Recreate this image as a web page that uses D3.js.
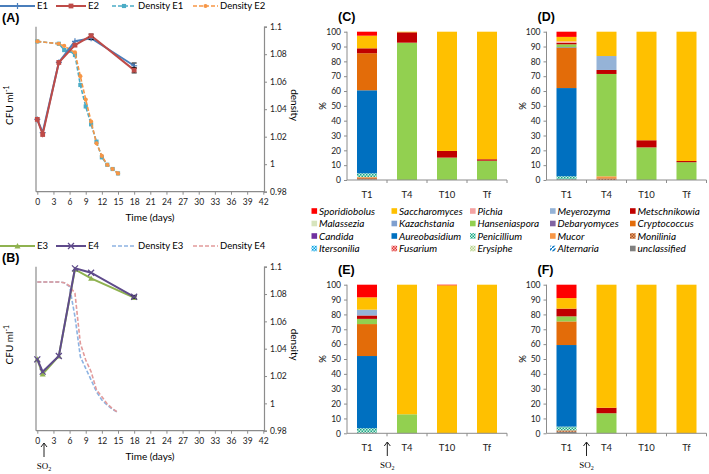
<!DOCTYPE html>
<html><head><meta charset="utf-8">
<script src="https://cdn.jsdelivr.net/npm/d3@7/dist/d3.min.js"></script>
<style>
body{margin:0;background:#fff;}
svg{display:block;font-family:Lato,"Open Sans",sans-serif;}
</style></head><body>
<svg id="c" width="709" height="474"></svg>
<script>
// ---------- DATA ----------
const cfuDays = [0, 1, 4, 7, 10, 18];
const cfuE1 = [5.63, 5.15, 7.70, 8.47, 8.58, 7.58];
const cfuE2 = [5.63, 5.08, 7.70, 8.33, 8.67, 7.42];
const errE1 = [0, 0, 0, 0, 0.05, 0.10];
const errE2 = [0, 0, 0, 0, 0.06, 0.10];
const cfuE3 = [5.61, 5.07, 5.73, 8.90, 8.57, 7.87];
const cfuE4 = [5.61, 5.16, 5.73, 8.94, 8.78, 7.90];
const errE3 = [0, 0, 0, 0, 0, 0.05];
const errE4 = [0, 0, 0, 0, 0, 0.05];
const densDays = [0, 4, 5, 6, 7, 8, 9, 10, 11, 12, 13, 14, 15];
const densE1 = [1.0893, 1.0876, 1.0830, 1.0825, 1.0794, 1.0576, 1.0420, 1.0290, 1.0164, 1.0050, 0.9996, 0.9965, 0.9933];
const densE2 = [1.0893, 1.0876, 1.0860, 1.0835, 1.0813, 1.0640, 1.0470, 1.0310, 1.0152, 1.0060, 0.9996, 0.9965, 0.9933];
const densE3 = [1.0888, 1.0888, 1.0883, 1.0854, 1.0634, 1.0341, 1.0256, 1.0171, 1.0085, 1.0024, 0.9988, 0.9956, 0.9934];
const densE4 = [1.0888, 1.0888, 1.0883, 1.0859, 1.0805, 1.0439, 1.0317, 1.0232, 1.0098, 1.0049, 0.9995, 0.9961, 0.9934];
const dayTicks = [0, 3, 6, 9, 12, 15, 18, 21, 24, 27, 30, 33, 36, 39, 42];
const densTicks = [0.98, 1, 1.02, 1.04, 1.06, 1.08, 1.1];

const genera = ["Sporidiobolus","Saccharomyces","Pichia","Meyerozyma","Metschnikowia",
  "Malassezia","Kazachstania","Hanseniaspora","Debaryomyces","Cryptococcus",
  "Candida","Aureobasidium","Penicillium","Mucor","Monilinia",
  "Itersonilia","Fusarium","Erysiphe","Alternaria","unclassified"];
const times = ["T1", "T4", "T10", "Tf"];
const pctTicks = [0, 10, 20, 30, 40, 50, 60, 70, 80, 90, 100];
// values per time point, genera in legend order
const compC = [
  [2.7, 8.5, 0, 0, 3.3, 0, 0, 0, 0, 25, 0, 56, 2.5, 0.5, 1, 0, 0, 0, 0, 0.5],
  [0, 0.4, 0, 0, 7, 0, 0, 92.6, 0, 0, 0, 0, 0, 0, 0, 0, 0, 0, 0, 0],
  [0, 80.4, 0, 0, 4.5, 0, 0, 15.1, 0, 0, 0, 0, 0, 0, 0, 0, 0, 0, 0, 0],
  [0, 86, 0, 0, 1, 0, 0, 13, 0, 0, 0, 0, 0, 0, 0, 0, 0, 0, 0, 0]];
const compD = [
  [3.5, 3, 1, 0, 1, 0, 0, 2, 0.5, 27, 0, 59.5, 2, 0, 0, 0, 0, 0, 0, 0.5],
  [0, 16.4, 0, 9.4, 2.7, 0, 0, 69, 0, 0, 0, 0, 0, 1.3, 1.2, 0, 0, 0, 0, 0],
  [0, 73.2, 0, 0, 4.8, 0, 0, 22, 0, 0, 0, 0, 0, 0, 0, 0, 0, 0, 0, 0],
  [0, 87.2, 0, 0, 0.8, 0, 0, 12, 0, 0, 0, 0, 0, 0, 0, 0, 0, 0, 0, 0]];
const compE = [
  [8.5, 8.3, 0, 3.9, 2.3, 0, 0, 3.5, 0, 21.5, 0, 48.6, 3, 0, 0, 0, 0, 0, 0, 0.4],
  [0, 87.2, 0, 0, 0, 0, 0, 12.8, 0, 0, 0, 0, 0, 0, 0, 0, 0, 0, 0, 0],
  [0.4, 99.6, 0, 0, 0, 0, 0, 0, 0, 0, 0, 0, 0, 0, 0, 0, 0, 0, 0, 0],
  [0, 100, 0, 0, 0, 0, 0, 0, 0, 0, 0, 0, 0, 0, 0, 0, 0, 0, 0, 0]];
const compF = [
  [9, 7.1, 0, 0, 5.2, 0, 0, 3.4, 0, 15.9, 0, 54.9, 2.5, 0, 1, 0, 0, 0, 0, 1],
  [0, 82.8, 0, 0, 3.7, 0, 0, 13.5, 0, 0, 0, 0, 0, 0, 0, 0, 0, 0, 0, 0],
  [0, 100, 0, 0, 0, 0, 0, 0, 0, 0, 0, 0, 0, 0, 0, 0, 0, 0, 0, 0],
  [0, 100, 0, 0, 0, 0, 0, 0, 0, 0, 0, 0, 0, 0, 0, 0, 0, 0, 0, 0]];

// ---------- STYLE ----------
const genusFill = ["#ff0000","#ffc000","#f4a3a3","#95b3d7","#c00000",
  "#d7e4bd","#7f9fcf","#92d050","#8064a2","#e36c09",
  "#7030a0","#0070c0","url(#pPen)","#f79646","url(#pMon)",
  "url(#pIte)","url(#pFus)","url(#pEry)","url(#pAlt)","#808080"];
const axisCol = "#8c8c8c";

const svg = d3.select("#c");
const defs = svg.append("defs");
function checker(id, c1, c2, s) {
  const p = defs.append("pattern").attr("id", id).attr("patternUnits","userSpaceOnUse")
    .attr("width", s*2).attr("height", s*2);
  p.append("rect").attr("width", s*2).attr("height", s*2).attr("fill", c2);
  p.append("rect").attr("width", s).attr("height", s).attr("fill", c1);
  p.append("rect").attr("x", s).attr("y", s).attr("width", s).attr("height", s).attr("fill", c1);
}
checker("pPen", "#17a589", "#d5f5e3", 1.5);
checker("pIte", "#00a0e0", "#d6f1ff", 1.5);
checker("pMon", "#a0522d", "#f0a060", 1.5);
checker("pFus", "#e03030", "#f8c0c0", 1.5);
checker("pEry", "#b5d28a", "#eef5e0", 1.5);
(function(){
  const p = defs.append("pattern").attr("id","pAlt").attr("patternUnits","userSpaceOnUse")
    .attr("width",4).attr("height",4);
  p.append("rect").attr("width",4).attr("height",4).attr("fill","#fff");
  p.append("path").attr("d","M0,4L4,0").attr("stroke","#0070c0").attr("stroke-width",1.4);
})();

// ---------- LINE PANELS ----------
function linePanel(cfg) {
  const x = d3.scaleLinear().domain([0, 42]).range([37.3, 263.3]);
  const yL = d3.scaleLinear().domain([3, 9]).range([cfg.yBot, cfg.yTop]);
  const yR = d3.scaleLinear().domain([0.98, 1.1]).range([cfg.yBot, cfg.yTop]);
  const g = svg.append("g");
  const xa = g.append("g").attr("transform", `translate(0,${cfg.yBot})`)
    .call(d3.axisBottom(x).tickValues(dayTicks).tickSize(3).tickPadding(4));
  const ra = g.append("g").attr("transform", `translate(264,0)`)
    .call(d3.axisRight(yR).tickValues(densTicks).tickSize(3).tickPadding(3)
      .tickFormat(d => String(+d.toFixed(2))));
  [xa, ra].forEach(a => {
    a.select(".domain").attr("stroke", axisCol).attr("stroke-width", 1.2);
    a.selectAll(".tick line").attr("stroke", axisCol);
    a.selectAll(".tick text").attr("fill", "#222").style("font-size", "8.5px").style("font-family", "Lato");
  });
  xa.select(".domain").attr("d", `M36,0H264`);
  g.append("line").attr("x1", 36).attr("x2", 36).attr("y1", cfg.yTop).attr("y2", cfg.yBot)
    .attr("stroke", axisCol).attr("stroke-width", 1.2);
  g.append("text").attr("x", 150).attr("y", cfg.yBot + 29).attr("text-anchor", "middle")
    .style("font-size", "10px").text("Time (days)");
  const cy = (cfg.yTop + cfg.yBot) / 2 - 4;
  const cfu = g.append("text").attr("transform", `translate(13,${cy}) rotate(-90)`)
    .attr("text-anchor", "middle").style("font-size", "10px");
  cfu.append("tspan").text("CFU ml");
  cfu.append("tspan").attr("dy", -4).style("font-size", "7px").text("-1");
  g.append("text").attr("transform", `translate(291,${cy}) rotate(90)`)
    .attr("text-anchor", "middle").style("font-size", "10px").text("density");
  g.append("text").attr("x", 2).attr("y", cfg.titleY).style("font-size", "12.5px")
    .style("font-weight", "bold").style("font-family", "Liberation Sans").text(cfg.title);

  cfg.dens.forEach(s => {
    const pts = densDays.map((d, i) => [x(d), yR(s.vals[i])]);
    g.append("path").attr("d", d3.line()(pts)).attr("fill", "none").attr("stroke", s.color)
      .attr("stroke-width", 1.6).attr("stroke-dasharray", "4,2");
    if (s.marker) pts.forEach(p => marker(g, s.marker, p[0], p[1], s.color, 2.6));
  });
  cfg.cfu.forEach(s => {
    const pts = cfuDays.map((d, i) => [x(d), yL(s.vals[i])]);
    g.append("path").attr("d", d3.line()(pts)).attr("fill", "none").attr("stroke", s.color)
      .attr("stroke-width", 2);
    cfuDays.forEach((d, i) => {
      if (s.err[i] > 0) {
        const xx = x(d), y1 = yL(s.vals[i] - s.err[i]), y2 = yL(s.vals[i] + s.err[i]);
        g.append("path").attr("d", `M${xx},${y1}V${y2}M${xx-2.5},${y1}h5M${xx-2.5},${y2}h5`)
          .attr("stroke", "#000").attr("stroke-width", 1);
      }
    });
    pts.forEach(p => marker(g, s.marker, p[0], p[1], s.color, 3));
  });
  const ly = cfg.legY;
  const items = cfg.cfu.concat(cfg.dens);
  const lx = [[0, 35, 37], [56, 86, 88], [112, 136, 138], [193, 218, 220]];
  items.forEach((s, i) => {
    const [a, b, t] = lx[i];
    g.append("line").attr("x1", a).attr("x2", b).attr("y1", ly).attr("y2", ly)
      .attr("stroke", s.color).attr("stroke-width", s.dashed ? 1.6 : 2)
      .attr("stroke-dasharray", s.dashed ? "4,2" : null);
    if (s.marker) marker(g, s.marker, (a + b) / 2, ly, s.color, s.dashed ? 2.6 : 3);
    g.append("text").attr("x", t).attr("y", ly + 3.3).style("font-size", "9.5px").text(s.name);
  });
}
function marker(g, type, cx, cy, col, r) {
  if (type === "square") g.append("rect").attr("x", cx - r * 0.8).attr("y", cy - r * 0.8)
    .attr("width", r * 1.6).attr("height", r * 1.6).attr("fill", col);
  else if (type === "circle") g.append("circle").attr("cx", cx).attr("cy", cy).attr("r", r * 0.8).attr("fill", col);
  else if (type === "plus") g.append("path").attr("d", `M${cx-r},${cy}h${2*r}M${cx},${cy-r}v${2*r}`)
    .attr("stroke", col).attr("stroke-width", 1.2);
  else if (type === "tri") g.append("path").attr("d", `M${cx},${cy-r}L${cx+r},${cy+r*0.8}L${cx-r},${cy+r*0.8}Z`).attr("fill", col);
  else if (type === "x") g.append("path").attr("d", `M${cx-r},${cy-r}L${cx+r},${cy+r}M${cx-r},${cy+r}L${cx+r},${cy-r}`)
    .attr("stroke", col).attr("stroke-width", 1.3);
}

linePanel({ title: "(A)", titleY: 22, yTop: 26.7, yBot: 191.7, legY: 6,
  cfu: [{ name: "E1", vals: cfuE1, err: errE1, color: "#4a7ebb", marker: "plus" },
        { name: "E2", vals: cfuE2, err: errE2, color: "#be4b48", marker: "square" }],
  dens: [{ name: "Density E1", vals: densE1, color: "#4bacc6", marker: "square", dashed: true },
         { name: "Density E2", vals: densE2, color: "#f79646", marker: "circle", dashed: true }] });
linePanel({ title: "(B)", titleY: 262, yTop: 266.7, yBot: 430.7, legY: 246,
  cfu: [{ name: "E3", vals: cfuE3, err: errE3, color: "#8fb250", marker: "tri" },
        { name: "E4", vals: cfuE4, err: errE4, color: "#5f4b8b", marker: "x" }],
  dens: [{ name: "Density E3", vals: densE3, color: "#8db3e2", marker: null, dashed: true },
         { name: "Density E4", vals: densE4, color: "#e29a9a", marker: null, dashed: true }] });

function so2(cx, yTip) {
  svg.append("path").attr("d", `M${cx},${yTip}V${yTip+14}M${cx-3},${yTip+4}L${cx},${yTip}L${cx+3},${yTip+4}`)
    .attr("stroke", "#222").attr("fill", "none").attr("stroke-width", 1);
  const t = svg.append("text").attr("x", cx).attr("y", yTip + 26).attr("text-anchor", "middle")
    .style("font-family", "Liberation Serif").style("font-size", "9px");
  t.append("tspan").text("SO");
  t.append("tspan").attr("dy", 2).style("font-size", "6px").text("2");
}
so2(44, 443);

// ---------- BAR PANELS ----------
function barPanel(cfg) {
  const x = d3.scaleBand().domain(times).range([cfg.x0, cfg.x0 + 160]).paddingInner(0.5).paddingOuter(0.25);
  const y = d3.scaleLinear().domain([0, 100]).range([cfg.yBot, cfg.yTop]);
  const g = svg.append("g");
  const rows = cfg.data.map((r, i) => { const o = { t: times[i] }; genera.forEach((n, j) => o[n] = r[j]); return o; });
  const stack = d3.stack().keys(genera.slice().reverse())(rows);
  stack.forEach(layer => {
    const gi = genera.indexOf(layer.key);
    g.selectAll(null).data(layer.filter(d => d[1] - d[0] > 0)).enter().append("rect")
      .attr("x", d => x(d.data.t)).attr("width", x.bandwidth())
      .attr("y", d => y(d[1])).attr("height", d => y(d[0]) - y(d[1]))
      .attr("fill", genusFill[gi]);
  });
  const ya = g.append("g").attr("transform", `translate(${cfg.x0},0)`)
    .call(d3.axisLeft(y).tickValues(pctTicks).tickSize(3).tickPadding(3));
  ya.select(".domain").attr("stroke", axisCol).attr("d", `M0,${cfg.yTop}V${cfg.yBot}`);
  ya.selectAll(".tick line").attr("stroke", axisCol);
  ya.selectAll(".tick text").attr("fill", "#222").style("font-size", "8.5px").style("font-family", "Lato");
  const xa = g.append("g").attr("transform", `translate(0,${cfg.yBot})`)
    .call(d3.axisBottom(x).tickSize(0).tickPadding(11));
  xa.select(".domain").attr("stroke", axisCol).attr("d", `M${cfg.x0},0H${cfg.x0 + 160}`);
  xa.selectAll(".tick text").attr("fill", "#222").style("font-size", "9.5px").style("font-family", "Lato");
  times.forEach((t, i) => {
    const bx = cfg.x0 + 40 * (i + 1);
    g.append("line").attr("x1", bx).attr("x2", bx).attr("y1", cfg.yBot).attr("y2", cfg.yBot + 3).attr("stroke", axisCol);
  });
  g.append("text").attr("transform", `translate(${cfg.x0 - 21},${(cfg.yTop + cfg.yBot) / 2}) rotate(-90)`)
    .attr("text-anchor", "middle").style("font-size", "9.5px").text("%");
  g.append("text").attr("x", cfg.x0 - 9).attr("y", cfg.yTop - 11).style("font-size", "12.5px")
    .style("font-weight", "bold").style("font-family", "Liberation Sans").text(cfg.title);
}
barPanel({ title: "(C)", x0: 347, yTop: 31.7, yBot: 180, data: compC });
barPanel({ title: "(D)", x0: 546.5, yTop: 31.7, yBot: 180, data: compD });
barPanel({ title: "(E)", x0: 347, yTop: 284.7, yBot: 433.3, data: compE });
barPanel({ title: "(F)", x0: 546.5, yTop: 284.7, yBot: 433.3, data: compF });
so2(387.3, 442);
so2(586.5, 442);

// ---------- GENUS LEGEND ----------
const legCols = [311.5, 391.5, 470, 550, 630];
const legRows = [211, 223.5, 236, 248.5];
const lg = svg.append("g");
genera.forEach((n, i) => {
  const cx = legCols[i % 5], cy = legRows[Math.floor(i / 5)];
  lg.append("rect").attr("x", cx).attr("y", cy - 2.8).attr("width", 5.6).attr("height", 5.6).attr("fill", genusFill[i]);
  lg.append("text").attr("x", cx + 7.5).attr("y", cy + 3.5).style("font-size", "10px")
    .style("font-style", "italic").text(n);
});
</script>
</body></html>
